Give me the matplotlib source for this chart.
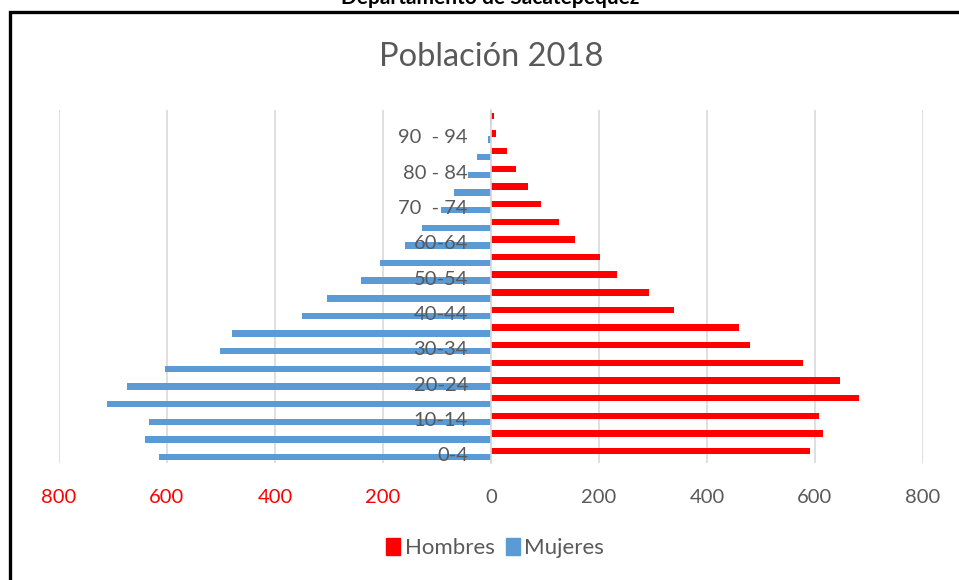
import matplotlib
matplotlib.use("Agg")
import matplotlib.pyplot as plt
from matplotlib.patches import Patch
from matplotlib.lines import Line2D

plt.rcParams["font.family"] = ["Lato", "DejaVu Sans"]

# Data
age_groups = ["0-4", "5-9", "10-14", "15-19", "20-24", "25-29", "30-34", "35-39",
              "40-44", "45-49", "50-54", "55-59", "60-64", "65-69", "70-74",
              "75-79", "80-84", "85-89", "90-94", "95+"]
hombres = [591, 614, 608, 682, 646, 578, 480, 460, 338, 292,
           234, 201, 156, 126, 92, 69, 46, 30, 10, 6]
mujeres = [615, 640, 634, 711, 675, 603, 502, 480, 350, 303,
           241, 206, 159, 127, 92, 68, 42, 26, 6, 2]
shown_labels = ["0-4", "10-14", "20-24", "30-34", "40-44",
                "50-54", "60-64", "70  - 74", "80 - 84", "90  - 94"]
x_ticks = [-800, -600, -400, -200, 0, 200, 400, 600, 800]
x_labels = ["800", "600", "400", "200", "0", "200", "400", "600", "800"]

RED = "#FF0000"
BLUE = "#5B9BD5"
GRAY = "#595959"
GRID = "#D9D9D9"

fig = plt.figure(figsize=(9.59, 5.80), dpi=100)
ax = fig.add_axes([59 / 959, 1 - 463 / 580, 864 / 959, 353 / 580])

# Bars
pos = list(range(len(age_groups)))
ax.barh([p + 0.17 for p in pos], hombres, height=0.36, color=RED, zorder=2)
ax.barh([p - 0.17 for p in pos], [-m for m in mujeres], height=0.36,
        color=BLUE, zorder=2)

ax.set_xlim(-800, 800)
ax.set_ylim(-0.5, len(age_groups) - 0.5)

# Category axis sits at zero (set before ticks, it resets them)
for side in ["top", "right", "bottom"]:
    ax.spines[side].set_visible(False)
ax.spines["left"].set_position(("data", 0))
ax.spines["left"].set_color(GRID)
ax.spines["left"].set_linewidth(1.2)

# Gridlines below bars, category labels above bars
ax.set_xticks(x_ticks)
ax.set_xticklabels(x_labels)
ax.tick_params(axis="x", length=0, pad=19, labelsize=14.5)
for lbl, val in zip(ax.get_xticklabels(), x_ticks):
    lbl.set_color(RED if val < 0 else GRAY)
ax.xaxis.grid(True, color=GRID, linewidth=1.2)
ax.xaxis.set_zorder(0.5)

ax.set_yticks(pos[::2])
ax.set_yticklabels(shown_labels)
ax.tick_params(axis="y", length=0, pad=16.5, labelsize=14.5, labelcolor=GRAY)
ax.yaxis.set_zorder(3)

# Titles
fig.text(491 / 959, 1 - 66 / 580, "Población 2018", ha="center", va="baseline",
         fontsize=23.5, color=GRAY)
fig.text(490 / 959, 1 - 4 / 580, "Departamento de Sacatepéquez", ha="center",
         va="baseline", fontsize=15, fontweight="bold", color="black")

# Outer frame (left and top edges)
fig.add_artist(Line2D([10 / 959, 10 / 959, 1.0], [0.0, 1 - 11.5 / 580, 1 - 11.5 / 580],
                      transform=fig.transFigure, color="black", linewidth=2.4,
                      solid_joinstyle="miter"))

# Legend
handles = [Patch(color=RED, label="Hombres"), Patch(color=BLUE, label="Mujeres")]
fig.legend(handles=handles, loc="center", bbox_to_anchor=(495 / 959, 1 - 548 / 580),
           ncol=2, frameon=False, fontsize=16, handlelength=0.65, handleheight=0.85,
           handletextpad=0.2, columnspacing=0.5, labelcolor=GRAY)

fig.savefig("out.png", dpi=100)
